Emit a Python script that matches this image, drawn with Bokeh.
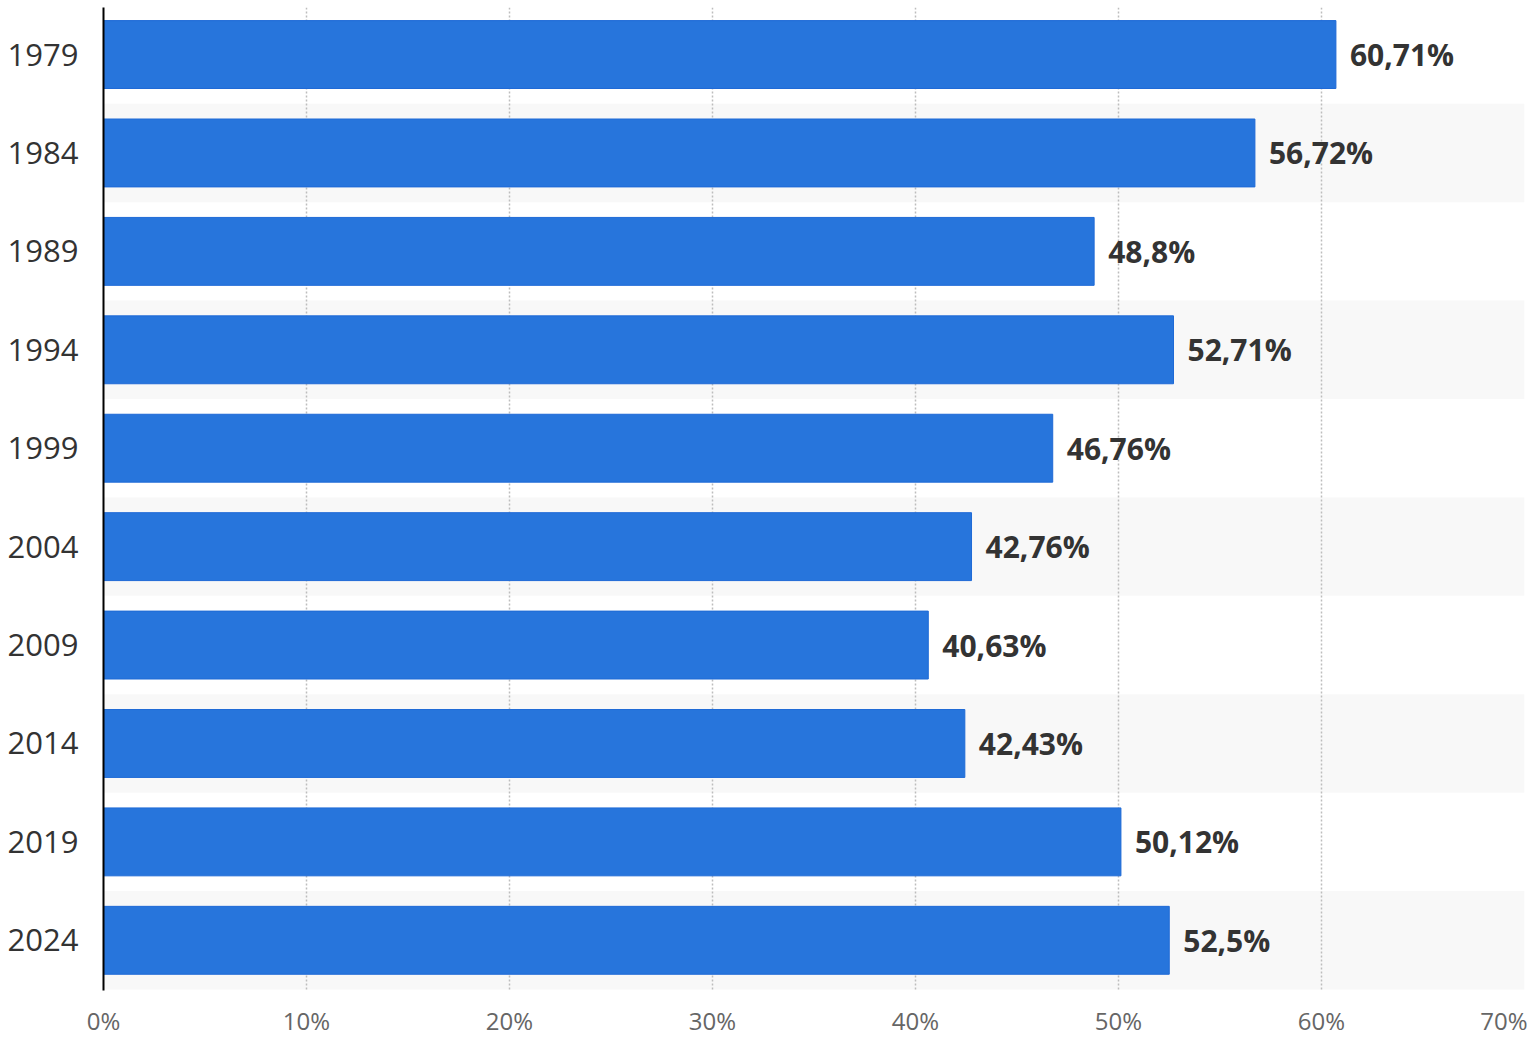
from bokeh.plotting import figure
from bokeh.models import Range1d, FixedTicker, ColumnDataSource
from bokeh.core.properties import value
from bokeh.embed import file_html
from bokeh.resources import INLINE

years = ["1979", "1984", "1989", "1994", "1999", "2004", "2009", "2014", "2019", "2024"]
shares = [60.71, 56.72, 48.8, 52.71, 46.76, 42.76, 40.63, 42.43, 50.12, 52.5]
share_labels = ["60,71%", "56,72%", "48,8%", "52,71%", "46,76%", "42,76%", "40,63%", "42,43%", "50,12%", "52,5%"]
x_ticks = [0, 10, 20, 30, 40, 50, 60, 70]
x_tick_labels = ["0%", "10%", "20%", "30%", "40%", "50%", "60%", "70%"]

rows = list(range(len(years)))

p = figure(width=1527, height=1039, output_backend="svg", toolbar_location=None,
           x_range=Range1d(0, 70), y_range=Range1d(9.51, -0.478),
           min_border_left=103, min_border_right=3, min_border_top=7, min_border_bottom=49)
p.outline_line_color = None
p.background_fill_color = "white"

# alternating row bands
band_rows = [r for r in rows if r % 2 == 1]
p.hbar(y=band_rows, left=0, right=72, height=1.0, fill_color="#f8f8f8", line_color=None, level="image")

src = ColumnDataSource(dict(y=rows, v=shares, lab=share_labels))
p.hbar(y="y", left=0, right="v", height=0.69, source=src, fill_color="#2775DC",
       line_color="#1f6ad6", line_width=1)
p.text(x="v", y="y", text="lab", source=src, x_offset=14, text_align="left", text_baseline="middle",
       text_font=value("Open Sans"), text_font_style="bold", text_font_size="30px", text_color="#333333")

# grids
p.ygrid.grid_line_color = None
p.xgrid.ticker = FixedTicker(ticks=x_ticks)
p.xgrid.grid_line_color = "#bdbdbd"
p.xgrid.grid_line_dash = "2 2"
p.xgrid.grid_line_width = 1.5

# axes
p.yaxis.ticker = FixedTicker(ticks=rows)
p.yaxis.major_label_overrides = {r: y for r, y in zip(rows, years)}
p.yaxis.axis_line_color = "#000000"
p.yaxis.axis_line_width = 2
p.yaxis.major_tick_line_color = None
p.yaxis.minor_tick_line_color = None
p.yaxis.major_tick_out = 0
p.yaxis.major_tick_in = 0
p.yaxis.minor_tick_out = 0
p.yaxis.major_label_standoff = 25
p.yaxis.major_label_text_font = "Open Sans"
p.yaxis.major_label_text_font_size = "31px"
p.yaxis.major_label_text_color = "#333333"

p.xaxis.ticker = FixedTicker(ticks=x_ticks)
p.xaxis.major_label_overrides = {t: l for t, l in zip(x_ticks, x_tick_labels)}
p.xaxis.axis_line_color = None
p.xaxis.major_tick_line_color = None
p.xaxis.minor_tick_line_color = None
p.xaxis.major_tick_out = 0
p.xaxis.major_tick_in = 0
p.xaxis.minor_tick_out = 0
p.xaxis.major_label_standoff = 13
p.xaxis.major_label_text_font = "Open Sans"
p.xaxis.major_label_text_font_size = "24px"
p.xaxis.major_label_text_color = "#666666"

open("out.html", "w").write(file_html(p, INLINE))
